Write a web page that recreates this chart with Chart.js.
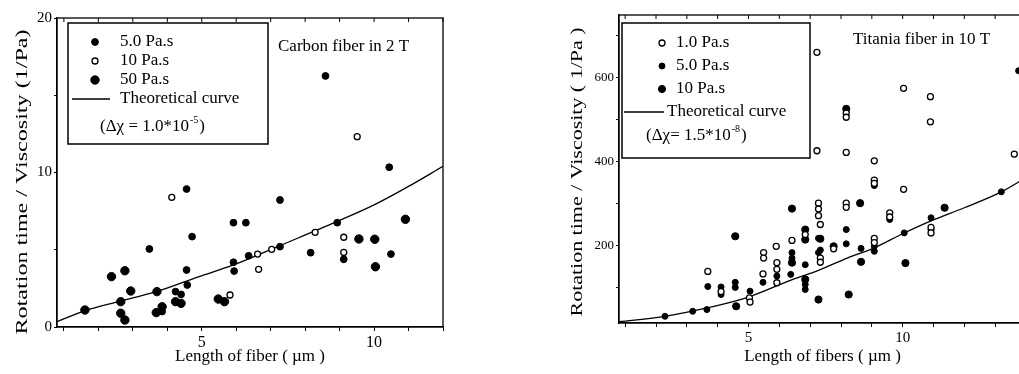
<!DOCTYPE html>
<html>
<head>
<meta charset="utf-8">
<script src="https://cdn.jsdelivr.net/npm/chart.js"></script>
<style>
  html, body { margin: 0; padding: 0; background: #fff; overflow: hidden; }
  body { width: 1019px; height: 374px; position: relative; }
  #left { position: absolute; left: 0; top: 0; width: 500px; height: 374px; }
  #right { position: absolute; left: 520px; top: 0; width: 516px; height: 374px; }
</style>
</head>
<body>
<div id="left"><canvas id="carbonChart"></canvas></div>
<div id="right"><canvas id="titaniaChart"></canvas></div>
<script>
// Carbon fiber in 2 T : [length of fiber (um), rotation time / viscosity (1/Pa)]
var carbon5 = [[3.48, 5.05], [4.56, 8.93], [4.72, 5.85], [5.92, 6.75], [6.28, 6.75], [7.27, 8.22],
  [8.59, 16.25], [10.44, 10.34], [4.56, 3.69], [4.58, 2.72], [5.92, 4.19], [5.94, 3.62], [6.36, 4.61],
  [7.27, 5.2], [8.16, 4.81], [8.93, 6.75], [9.12, 4.38], [10.49, 4.72], [4.24, 2.29], [4.4, 2.11], [3.85, 1.0]];
var carbon10 = [[4.13, 8.39], [5.82, 2.07], [6.62, 4.72], [6.65, 3.73], [7.03, 5.03], [8.29, 6.13],
  [9.51, 12.32], [9.12, 5.81], [9.12, 4.83]];
var carbon50 = [[1.61, 1.1], [2.38, 3.26], [2.77, 3.64], [2.65, 1.64], [2.65, 0.89], [2.77, 0.45],
  [2.94, 2.33], [3.7, 2.29], [3.68, 0.93], [3.85, 1.31], [4.24, 1.64], [4.4, 1.53], [5.48, 1.81],
  [5.66, 1.64], [9.56, 5.7], [10.02, 5.68], [10.04, 3.9], [10.91, 6.97]];
var carbonCurve = [[0.8, 0.35], [1.6, 1.05], [2.5, 1.6], [3.7, 2.3], [4.9, 3.25], [5.9, 4.0],
  [7.3, 5.3], [8.9, 6.8], [10.0, 7.9], [11.0, 9.1], [12.0, 10.4]];

// Titania fiber in 10 T
var titania1 = [[3.68, 138], [4.11, 90], [5.03, 75], [5.05, 65], [5.47, 132], [5.49, 183], [5.49, 170],
  [5.9, 198], [5.92, 159], [5.92, 143], [5.92, 111], [6.41, 212], [6.84, 226], [7.22, 661], [7.22, 426],
  [7.27, 301], [7.27, 287], [7.27, 271], [7.33, 250], [7.33, 170], [7.33, 160], [7.76, 192], [8.17, 516],
  [8.17, 506], [8.17, 422], [8.17, 301], [8.17, 291], [9.08, 402], [9.08, 356], [9.08, 348], [9.08, 217],
  [9.08, 207], [9.58, 278], [9.58, 268], [10.03, 575], [10.03, 334], [10.9, 555], [10.9, 495],
  [10.92, 243], [10.92, 230], [13.62, 418]];
var titania5 = [[2.29, 31], [3.19, 43], [3.65, 47], [3.68, 102], [4.11, 101], [4.11, 83], [4.57, 112],
  [4.57, 100], [5.05, 91], [5.47, 112], [5.92, 127], [6.37, 131], [6.41, 183], [6.41, 170], [6.84, 154],
  [6.84, 107], [6.84, 95], [7.27, 217], [7.27, 183], [7.33, 189], [8.17, 238], [8.17, 204], [8.65, 193],
  [9.08, 343], [9.08, 198], [9.08, 186], [9.58, 262], [10.05, 230], [10.92, 266], [10.92, 238],
  [13.2, 328], [13.76, 617]];
var titania10 = [[4.57, 222], [4.6, 55], [6.41, 288], [6.84, 238], [6.84, 214], [6.84, 119], [7.27, 71],
  [7.33, 216], [7.76, 198], [8.17, 526], [8.25, 83], [8.62, 301], [8.65, 161], [10.09, 158],
  [11.36, 290], [6.41, 159]];
var titaniaCurve = [[0.8, 18], [2.3, 31], [3.65, 51], [5.0, 77], [6.4, 118], [7.25, 140], [8.2, 170],
  [9.1, 195], [10.0, 228], [10.9, 258], [12.0, 290], [13.2, 328], [14.0, 362]];

var SERIF = '"Liberation Serif", "Times New Roman", serif';

function toXY(list) {
  return list.map(function (p) { return { x: p[0], y: p[1] }; });
}

function filled(label, pts, r) {
  return { label: label, data: toXY(pts), pointRadius: r, pointBackgroundColor: '#000',
    pointBorderColor: '#000', pointBorderWidth: 1, showLine: false };
}
function hollow(label, pts, r) {
  return { label: label, data: toXY(pts), pointRadius: r, pointBackgroundColor: '#fff',
    pointBorderColor: '#000', pointBorderWidth: 1.3, showLine: false };
}
function curve(pts) {
  return { label: 'Theoretical curve', data: toXY(pts), showLine: true, borderColor: '#000',
    borderWidth: 1.3, pointRadius: 0, cubicInterpolationMode: 'monotone', fill: false };
}

// frame, stretched y title, boxed legend and the caption inside the plot
var paperPlugin = {
  id: 'paper',
  afterDraw: function (chart, args, o) {
    var ctx = chart.ctx, a = chart.chartArea;
    ctx.save();
    ctx.strokeStyle = '#000';
    ctx.lineWidth = 1.3;
    ctx.strokeRect(a.left, a.top, a.right - a.left, a.bottom - a.top);

    // little inward ticks on the top edge, like the original frame
    ctx.lineWidth = 1;
    ctx.beginPath();
    chart.scales.x.ticks.forEach(function (t) {
      var px = chart.scales.x.getPixelForValue(t.value);
      ctx.moveTo(px, a.top);
      ctx.lineTo(px, a.top + 4);
    });
    ctx.stroke();

    ctx.fillStyle = '#000';
    ctx.textBaseline = 'middle';

    // y title (the scan is stretched along the text)
    var t = o.yTitle;
    ctx.save();
    ctx.font = t.size + 'px ' + SERIF;
    ctx.translate(t.x, t.y);
    ctx.rotate(-Math.PI / 2);
    ctx.scale(t.length / ctx.measureText(t.text).width, 1);
    ctx.textAlign = 'center';
    ctx.fillText(t.text, 0, 0);
    ctx.restore();

    // caption
    ctx.textAlign = 'left';
    ctx.font = o.caption.size + 'px ' + SERIF;
    ctx.fillText(o.caption.text, o.caption.x, o.caption.y);

    // legend box
    var L = o.legend;
    ctx.fillStyle = '#fff';
    ctx.fillRect(L.x, L.y, L.w, L.h);
    ctx.lineWidth = 1.5;
    ctx.strokeRect(L.x, L.y, L.w, L.h);
    ctx.font = L.size + 'px ' + SERIF;
    L.rows.forEach(function (r) {
      var ds = chart.data.datasets[r.ds];
      if (ds.showLine) {
        ctx.strokeStyle = '#000';
        ctx.lineWidth = 1.3;
        ctx.beginPath();
        ctx.moveTo(L.lineX0, r.y);
        ctx.lineTo(L.lineX1, r.y);
        ctx.stroke();
        ctx.fillStyle = '#000';
        ctx.fillText(ds.label, L.lineText, r.y);
      } else {
        ctx.beginPath();
        ctx.arc(L.symX, r.y, ds.pointRadius, 0, Math.PI * 2);
        ctx.fillStyle = ds.pointBackgroundColor;
        ctx.fill();
        ctx.lineWidth = ds.pointBorderWidth;
        ctx.strokeStyle = ds.pointBorderColor;
        ctx.stroke();
        ctx.fillStyle = '#000';
        ctx.fillText(ds.label, L.textX, r.y);
      }
    });
    // (delta chi = ...*10^-n)
    var f = L.formula, x = f.x;
    ctx.fillStyle = '#000';
    ctx.fillText(f.base, x, f.y);
    x += ctx.measureText(f.base).width;
    ctx.font = Math.round(L.size * 0.6) + 'px ' + SERIF;
    ctx.fillText(f.exp, x + 1, f.y - 7);
    x += ctx.measureText(f.exp).width + 2;
    ctx.font = L.size + 'px ' + SERIF;
    ctx.fillText(')', x, f.y);
    ctx.restore();
  }
};

function axes(o) {
  var tickFont = { family: SERIF, size: o.tickSize };
  return {
    x: {
      type: 'linear', min: o.xMin, max: o.xMax,
      afterFit: function (s) { s.height = o.xHeight; },
      border: { display: true, color: '#000', width: 1.3 },
      grid: { drawOnChartArea: false, drawTicks: true, tickLength: 4, color: '#000' },
      ticks: { stepSize: 1, includeBounds: false, autoSkip: false, maxRotation: 0, padding: 2,
        color: '#000', font: { family: SERIF, size: o.xTickSize },
        callback: function (v) { return (v === 5 || v === 10) ? String(v) : ''; } },
      title: { display: true, text: o.xTitle, color: '#000', font: { family: SERIF, size: 17 },
        padding: { top: 0, bottom: 7 } }
    },
    y: {
      type: 'linear', min: o.yMin, max: o.yMax,
      afterFit: function (s) { s.width = o.yWidth; },
      border: { display: true, color: '#000', width: 1.3 },
      grid: { drawOnChartArea: false, drawTicks: true, tickLength: 3, color: '#000' },
      ticks: { stepSize: o.yStep, includeBounds: false, autoSkip: false, padding: 2, color: '#000',
        font: tickFont,
        callback: function (v) { return v % o.yLabelEvery === 0 ? String(v) : ''; } }
    }
  };
}

Chart.defaults.font.family = SERIF;

new Chart(document.getElementById('carbonChart'), {
  type: 'scatter',
  data: {
    datasets: [
      filled('5.0 Pa.s', carbon5, 3.4),
      hollow('10 Pa.s', carbon10, 3),
      filled('50 Pa.s', carbon50, 4.2),
      curve(carbonCurve)
    ]
  },
  options: {
    responsive: true, maintainAspectRatio: false, animation: false, devicePixelRatio: 1,
    layout: { padding: { left: 0, top: 18, right: 57, bottom: 0 } },
    scales: axes({ xMin: 0.8, xMax: 12, yMin: 0, yMax: 20, yStep: 5, yLabelEvery: 10,
      xHeight: 47, yWidth: 57, tickSize: 15, xTickSize: 16, xTitle: 'Length of fiber ( µm )' }),
    plugins: {
      legend: { display: false },
      tooltip: { enabled: false },
      paper: {
        yTitle: { text: 'Rotation time / Viscosity (1/Pa)', x: 23, y: 182, size: 17, length: 305 },
        caption: { text: 'Carbon fiber in 2 T', x: 278, y: 47, size: 17 },
        legend: {
          x: 68, y: 23, w: 200, h: 121, size: 17, symX: 95, textX: 120,
          lineX0: 72, lineX1: 110, lineText: 120,
          rows: [{ ds: 0, y: 42 }, { ds: 1, y: 61 }, { ds: 2, y: 80 }, { ds: 3, y: 99 }],
          formula: { base: '(Δχ = 1.0*10', exp: '-5', x: 100, y: 127 }
        }
      }
    }
  },
  plugins: [paperPlugin]
});

new Chart(document.getElementById('titaniaChart'), {
  type: 'scatter',
  data: {
    datasets: [
      hollow('1.0 Pa.s', titania1, 3),
      filled('5.0 Pa.s', titania5, 3),
      filled('10 Pa.s', titania10, 3.6),
      curve(titaniaCurve)
    ]
  },
  options: {
    responsive: true, maintainAspectRatio: false, animation: false, devicePixelRatio: 1,
    layout: { padding: { left: 0, top: 15, right: 10, bottom: 0 } },
    scales: axes({ xMin: 0.8, xMax: 14, yMin: 15, yMax: 750, yStep: 100, yLabelEvery: 200,
      xHeight: 51, yWidth: 99, tickSize: 13, xTickSize: 15, xTitle: 'Length of fibers ( µm )' }),
    plugins: {
      legend: { display: false },
      tooltip: { enabled: false },
      paper: {
        yTitle: { text: 'Rotation time / Viscosity ( 1/Pa )', x: 58, y: 172, size: 17, length: 289 },
        caption: { text: 'Titania fiber in 10 T', x: 333, y: 40, size: 17 },
        legend: {
          x: 102, y: 23, w: 188, h: 135, size: 17, symX: 142, textX: 156,
          lineX0: 104, lineX1: 144, lineText: 147,
          rows: [{ ds: 0, y: 43 }, { ds: 1, y: 66 }, { ds: 2, y: 89 }, { ds: 3, y: 112 }],
          formula: { base: '(Δχ= 1.5*10', exp: '-8', x: 126, y: 136 }
        }
      }
    }
  },
  plugins: [paperPlugin]
});
</script>
</body>
</html>
